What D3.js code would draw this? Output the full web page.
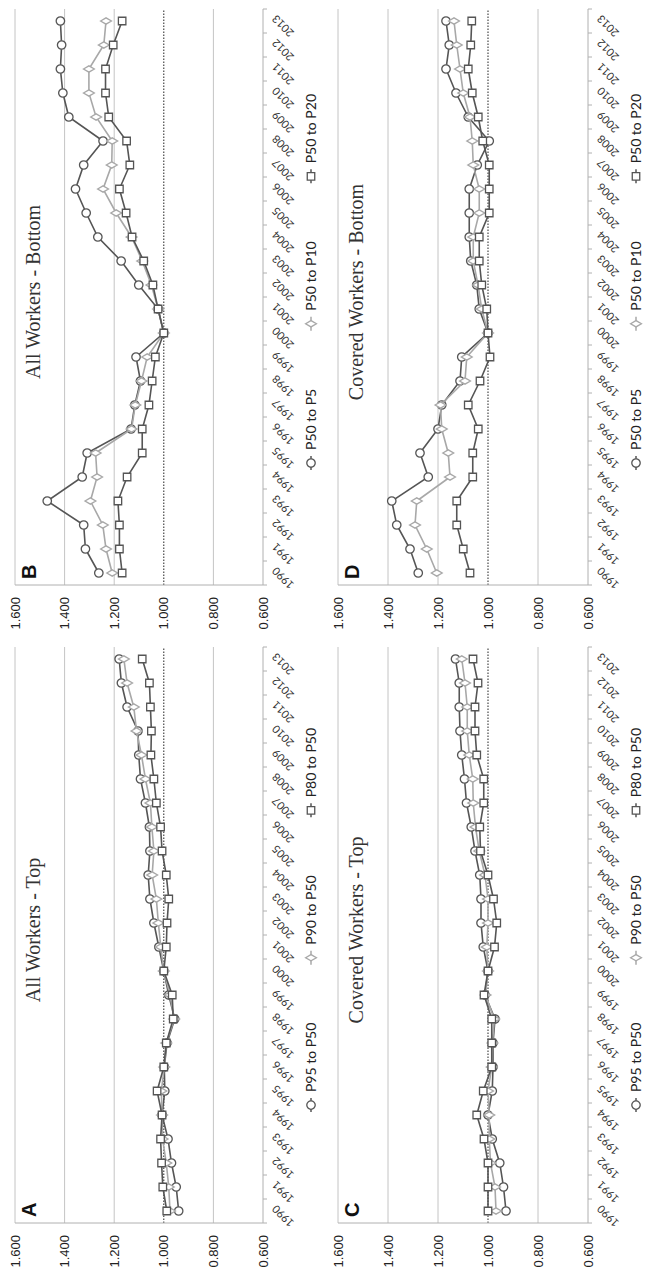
<!DOCTYPE html>
<html><head><meta charset="utf-8">
<script src="https://cdn.jsdelivr.net/npm/d3@7"></script>
<style>html,body{margin:0;padding:0;background:#fff;}svg{display:block;}</style>
</head><body>
<script>
const years = ["1990","1991","1992","1993","1994","1995","1996","1997","1998","1999","2000","2001","2002","2003","2004","2005","2006","2007","2008","2009","2010","2011","2012","2013"];
const valueTicks = [1.6, 1.4, 1.2, 1.0, 0.8, 0.6];
const valueTickLabels = ["1.600","1.400","1.200","1.000","0.800","0.600"];

// Panel A: All Workers - Top
const allTopP95 = [0.94,0.95,0.969,0.983,1.007,0.996,0.998,0.987,0.956,0.98,1.0,1.02,1.04,1.056,1.063,1.056,1.058,1.074,1.094,1.101,1.104,1.148,1.171,1.18];
const allTopP90 = [0.975,0.98,0.99,1.005,1.007,1.01,0.998,0.99,0.958,0.975,1.0,1.012,1.022,1.03,1.047,1.04,1.048,1.054,1.074,1.09,1.11,1.121,1.148,1.161];
const allTopP80 = [0.988,1.004,1.009,1.013,1.007,1.027,1.0,0.99,0.962,0.966,1.0,0.99,0.987,0.98,0.99,1.007,1.013,1.03,1.04,1.052,1.05,1.054,1.058,1.087];
// Panel B: All Workers - Bottom
const allBotP5 = [1.262,1.316,1.323,1.47,1.329,1.309,1.132,1.117,1.094,1.112,1.0,1.023,1.101,1.172,1.266,1.313,1.356,1.323,1.245,1.383,1.407,1.417,1.412,1.417];
const allBotP10 = [1.208,1.233,1.246,1.296,1.269,1.275,1.13,1.115,1.09,1.067,1.0,1.023,1.05,1.087,1.13,1.192,1.245,1.21,1.208,1.273,1.302,1.302,1.242,1.233];
const allBotP20 = [1.168,1.179,1.179,1.185,1.148,1.087,1.087,1.06,1.047,1.034,1.0,1.023,1.044,1.081,1.128,1.152,1.179,1.137,1.15,1.222,1.235,1.235,1.204,1.168];
// Panel C: Covered Workers - Top
const covTopP95 = [0.928,0.938,0.953,0.983,1.0,0.983,0.98,0.98,0.972,1.012,1.0,1.019,1.028,1.028,1.033,1.052,1.067,1.086,1.094,1.105,1.112,1.115,1.115,1.13];
const covTopP90 = [0.968,0.972,0.99,0.995,0.995,1.0,0.985,0.982,0.975,1.01,1.0,1.005,1.0,1.0,1.012,1.035,1.05,1.059,1.061,1.075,1.083,1.083,1.092,1.105];
const covTopP80 = [1.0,1.0,1.0,1.016,1.045,1.019,0.985,0.985,0.985,1.016,1.0,0.974,0.965,0.978,1.0,1.03,1.033,1.017,1.017,1.045,1.052,1.052,1.04,1.06];
// Panel D: Covered Workers - Bottom
const covBotP5 = [1.279,1.312,1.365,1.385,1.239,1.272,1.2,1.185,1.112,1.105,1.0,1.035,1.045,1.069,1.075,1.075,1.075,1.043,0.995,1.079,1.128,1.168,1.155,1.168];
const covBotP10 = [1.205,1.245,1.292,1.285,1.152,1.159,1.185,1.19,1.092,1.085,1.0,1.025,1.04,1.059,1.059,1.035,1.035,1.059,1.063,1.072,1.099,1.112,1.125,1.136];
const covBotP20 = [1.072,1.099,1.125,1.125,1.061,1.061,1.039,1.079,1.032,0.992,1.0,1.005,1.025,1.035,1.035,0.995,0.995,0.995,1.021,1.039,1.063,1.079,1.069,1.065];

const topLegend = ["P95 to P50","P90 to P50","P80 to P50"];
const botLegend = ["P50 to P5","P50 to P10","P50 to P20"];

const panels = [
  {letter:"A", title:"All Workers - Top", series:[allTopP95,allTopP90,allTopP80], legend:topLegend, col:0, row:0},
  {letter:"B", title:"All Workers - Bottom", series:[allBotP5,allBotP10,allBotP20], legend:botLegend, col:1, row:0},
  {letter:"C", title:"Covered Workers - Top", series:[covTopP95,covTopP90,covTopP80], legend:topLegend, col:0, row:1},
  {letter:"D", title:"Covered Workers - Bottom", series:[covBotP5,covBotP10,covBotP20], legend:botLegend, col:1, row:1}
];

const styles = [
  {stroke:"#555555", sym:d3.symbolCircle, size:56},
  {stroke:"#a8a8a8", sym:d3.symbolDiamond, size:34},
  {stroke:"#555555", sym:d3.symbolSquare, size:56}
];

const W = 648, H = 1275;
const svg = d3.select("body").append("svg").attr("width", W).attr("height", H);
// landscape canvas 1275 x 648 rotated counter-clockwise
const root = svg.append("g").attr("transform", `translate(0,${H}) rotate(-90)`);

const colX = [[52, 628], [690, 1266]];
const rowY = [[15, 263], [338, 588]];

panels.forEach(p => {
  const [x0, x1] = colX[p.col];
  const [yt, yb] = rowY[p.row];
  const g = root.append("g");
  const x = d3.scaleBand().domain(years).range([x0, x1]);
  const y = d3.scaleLinear().domain([0.6, 1.6]).range([yb, yt]);
  const cx = d => x(d) + x.bandwidth() / 2;

  // gridlines
  valueTicks.forEach(v => {
    if (v === 0.6) return;
    g.append("line").attr("x1", x0).attr("x2", x1).attr("y1", y(v)).attr("y2", y(v))
      .attr("stroke", v === 1.0 ? "#222" : "#c4c4c4")
      .attr("stroke-width", 1)
      .attr("stroke-dasharray", v === 1.0 ? "1.5,1.5" : null);
  });
  // axes lines
  g.append("line").attr("x1", x0).attr("x2", x1).attr("y1", y(0.6)).attr("y2", y(0.6)).attr("stroke", "#b0b0b0");
  g.append("line").attr("x1", x0).attr("x2", x0).attr("y1", y(0.6)).attr("y2", y(1.6)).attr("stroke", "#b0b0b0");
  // category tick marks at band boundaries
  years.concat(["end"]).forEach((yr, i) => {
    const bx = x0 + i * x.step();
    g.append("line").attr("x1", bx).attr("x2", bx).attr("y1", y(0.6)).attr("y2", y(0.6) + 4).attr("stroke", "#b0b0b0");
  });
  // value labels
  valueTicks.forEach((v, i) => {
    g.append("text").attr("x", x0 - 12).attr("y", y(v)).attr("dy", "0.35em")
      .attr("text-anchor", "end").attr("font-family", "Liberation Sans, Arial, sans-serif")
      .attr("font-size", 13).attr("fill", "#222").text(valueTickLabels[i]);
  });
  // year labels
  years.forEach(yr => {
    const tx = cx(yr) + 4, ty = y(0.6) + 11;
    g.append("text").attr("transform", `translate(${tx},${ty}) rotate(-45)`)
      .attr("text-anchor", "end").attr("dy", "0.35em")
      .attr("font-family", "Lato, Open Sans, sans-serif").attr("font-size", 11).attr("fill", "#333").text(yr);
  });

  // series
  p.series.forEach((vals, si) => {
    const st = styles[si];
    const line = d3.line().x((d, i) => cx(years[i])).y(d => y(d));
    g.append("path").datum(vals).attr("d", line).attr("fill", "none")
      .attr("stroke", st.stroke).attr("stroke-width", 1.6);
    g.selectAll(null).data(vals).enter().append("path")
      .attr("transform", (d, i) => `translate(${cx(years[i])},${y(d)})`)
      .attr("d", d3.symbol().type(st.sym).size(st.size))
      .attr("fill", "#fff").attr("stroke", st.stroke).attr("stroke-width", 1.3);
  });

  // letter
  g.append("text").attr("x", x0 + 6).attr("y", yt + 21)
    .attr("font-family", "Liberation Sans, Arial, sans-serif").attr("font-weight", "bold")
    .attr("font-size", 20).attr("fill", "#111").text(p.letter);
  // title
  g.append("text").attr("x", (x0 + x1) / 2 + 5).attr("y", yt + 25).attr("text-anchor", "middle")
    .attr("font-family", "Liberation Serif, Times New Roman, serif").attr("font-size", 20)
    .attr("fill", "#333").text(p.title);

  // legend
  const lg = g.append("g");
  const ly = yb + 48;
  let cur = 0;
  p.legend.forEach((lab, si) => {
    const st = styles[si];
    const it = lg.append("g").attr("transform", `translate(${cur},${ly})`);
    it.append("line").attr("x1", 0).attr("x2", 14).attr("y1", 0).attr("y2", 0)
      .attr("stroke", st.stroke).attr("stroke-width", 1.5);
    it.append("path").attr("transform", "translate(7,0)")
      .attr("d", d3.symbol().type(st.sym).size(st.size)).attr("fill", "#fff")
      .attr("stroke", st.stroke).attr("stroke-width", 1.3);
    const t = it.append("text").attr("x", 20).attr("y", 0).attr("dy", "0.35em")
      .attr("font-family", "Lato, Open Sans, sans-serif").attr("font-size", 14)
      .attr("fill", "#222").text(lab);
    const w = 20 + t.node().getComputedTextLength();
    cur += w + 58;
  });
  const total = cur - 58;
  lg.attr("transform", `translate(${(x0 + x1) / 2 + 15 - total / 2},0)`);
});
</script>
</body></html>
